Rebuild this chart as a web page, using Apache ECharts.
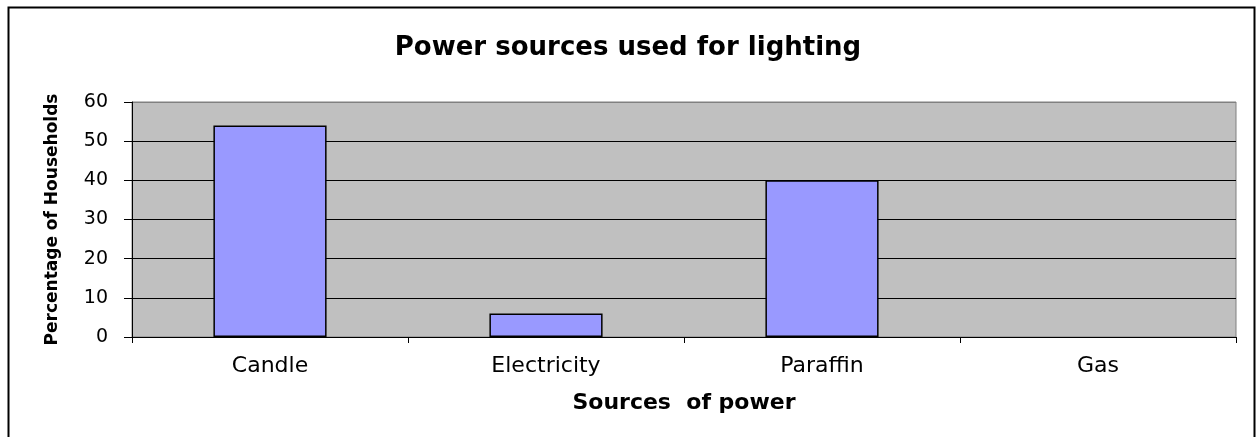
<!DOCTYPE html>
<html>
<head>
<meta charset="utf-8">
<script src="https://cdn.jsdelivr.net/npm/echarts@6/dist/echarts.min.js"></script>
<style>
  html, body { margin: 0; padding: 0; background: #ffffff; }
  #chart { width: 1256px; height: 437px; }
</style>
</head>
<body>
<div id="chart"></div>
<script>
const titleText = 'Power sources used for lighting';
const categories = ['Candle', 'Electricity', 'Paraffin', 'Gas'];
const households = [54, 6, 40, 0];
const xAxisName = 'Sources  of power';
const yAxisName = 'Percentage of Households';

const barData = households.map(v => v === 0 ? { value: v, itemStyle: { borderWidth: 0 } } : v);

const chart = echarts.init(document.getElementById('chart'), null, { renderer: 'canvas' });
chart.setOption({
  backgroundColor: '#ffffff',
  animation: false,
  title: {
    text: titleText,
    left: 'center',
    top: 30,
    textStyle: { fontFamily: 'DejaVu Sans', fontWeight: 'bold', fontSize: 26, color: '#000' }
  },
  graphic: [{
    type: 'rect',
    shape: { x: 8.5, y: 7.5, width: 1246, height: 445 },
    style: { fill: 'none', stroke: '#000', lineWidth: 2 },
    silent: true
  }],
  grid: {
    left: 132, right: 20, top: 102, bottom: 100,
    show: true, backgroundColor: '#c0c0c0', borderColor: '#808080', borderWidth: 1
  },
  xAxis: {
    type: 'category',
    data: categories,
    boundaryGap: true,
    name: xAxisName,
    nameLocation: 'middle',
    nameGap: 55,
    nameTextStyle: { fontFamily: 'DejaVu Sans', fontWeight: 'bold', fontSize: 22, color: '#000' },
    axisLine: { show: true, lineStyle: { color: '#000', width: 1 } },
    axisTick: { show: true, alignWithLabel: false, length: 6, lineStyle: { color: '#000' } },
    axisLabel: { margin: 18, fontFamily: 'DejaVu Sans', fontSize: 22, color: '#000' }
  },
  yAxis: {
    type: 'value',
    min: 0, max: 60, interval: 10,
    name: yAxisName,
    nameLocation: 'middle',
    nameGap: 71,
    nameTextStyle: { fontFamily: 'DejaVu Sans', fontWeight: 'bold', fontSize: 17, color: '#000', padding: [0, 0, 0, 0] },
    axisLine: { show: true, lineStyle: { color: '#000', width: 1 } },
    axisTick: { show: true, length: 8, lineStyle: { color: '#000' } },
    axisLabel: { margin: 24, fontFamily: 'DejaVu Sans', fontSize: 19, color: '#000' },
    splitLine: { show: true, lineStyle: { color: ['#000', '#000', '#000', '#000', '#000', '#000', '#808080'], width: 1 } }
  },
  series: [{
    type: 'bar',
    data: barData,
    barWidth: '41%',
    itemStyle: { color: '#9999ff', borderColor: '#000', borderWidth: 1.5 }
  }]
});
</script>
</body>
</html>
